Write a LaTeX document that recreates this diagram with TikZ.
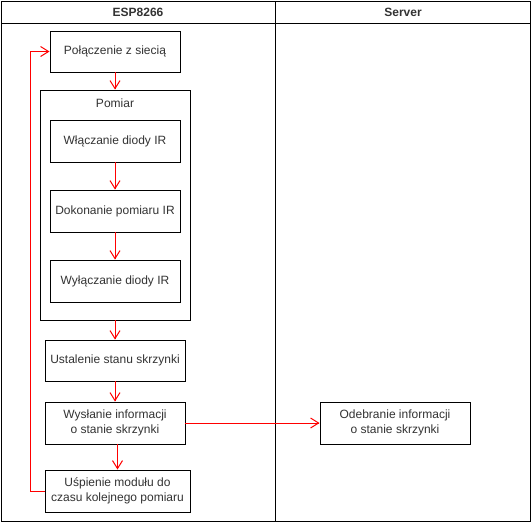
\documentclass[tikz,border=0pt]{standalone}
\usepackage{fontspec}
\setmainfont{Liberation Sans}
\usetikzlibrary{arrows.meta, calc}
\definecolor{flowRed}{RGB}{255,0,0}
\definecolor{textGray}{RGB}{51,51,51}

\tikzset{
  box/.style={draw=black, line width=1pt, fill=white, align=center, inner sep=0pt,
    font=\fontsize{12}{14.4}\selectfont, text=textGray},
  flow/.style={draw=flowRed, line width=1pt, -{Straight Barb[length=8pt,width=10pt,line width=1pt]}},
  lane/.style={draw=black, line width=1pt},
  head/.style={font=\fontsize{12}{14}\selectfont\bfseries, text=textGray},
}

\begin{document}
\begin{tikzpicture}[x=1pt, y=-1pt, line cap=rect]

  \useasboundingbox (0,0) rectangle (532,522);

  % swimlanes
  \draw[lane] (1,1) rectangle (530,521);
  \draw[lane] (1,23) -- (530,23);
  \draw[lane] (275,1) -- (275,521);
  \node[head] (hEsp) at (138,12) {ESP8266};
  \node[head] (hSrv) at (403,12) {Server};

  % ESP8266 lane
  \node[box, minimum width=130pt, minimum height=41pt] (pol) at (115,51.5) {Połączenie z siecią};
  \node[box, minimum width=150pt, minimum height=230pt] (pomiar) at (115,205) {};
  \node[box, draw=none, fill=none] (pomiarLbl) at (115,103) {Pomiar};
  \node[box, minimum width=130pt, minimum height=42pt] (wl) at (115,141) {Włączanie diody IR};
  \node[box, minimum width=130pt, minimum height=42pt] (dok) at (115,211) {Dokonanie pomiaru IR};
  \node[box, minimum width=130pt, minimum height=42pt] (wyl) at (115,281) {Wyłączanie diody IR};
  \node[box, minimum width=140pt, minimum height=41pt] (ust) at (115,360.5) {Ustalenie stanu skrzynki};
  \node[box, minimum width=140pt, minimum height=42pt] (wys) at (115,423) {Wysłanie informacji\\o stanie skrzynki};
  \node[box, minimum width=145pt, minimum height=42pt] (usp) at (117.5,491) {Uśpienie modułu do\\czasu kolejnego pomiaru};

  % Server lane
  \node[box, minimum width=150pt, minimum height=42pt] (odb) at (395,423) {Odebranie informacji\\o stanie skrzynki};

  % connectors
  \coordinate (loop) at (30,0);
  \draw[flow] (pol.south) -- (pomiar.north);
  \draw[flow] (wl.south) -- (dok.north);
  \draw[flow] (dok.south) -- (wyl.north);
  \draw[flow] (pomiar.south) -- (ust.north);
  \draw[flow] (ust.south) -- (wys.north);
  \draw[flow] (wys.south -| usp.north) -- (usp.north);
  \draw[flow] (usp.west) -- (usp.west -| loop) -- (pol.west -| loop) -- (pol.west);
  \draw[flow] (wys.east) -- (odb.west);

\end{tikzpicture}
\end{document}
